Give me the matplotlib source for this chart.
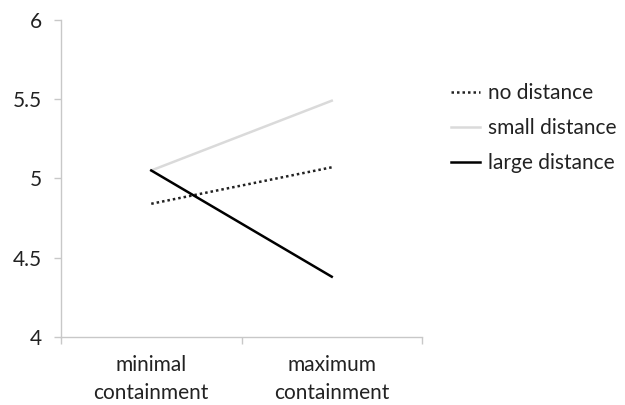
import matplotlib
matplotlib.use("Agg")
import matplotlib.pyplot as plt

categories = ["minimal\ncontainment", "maximum\ncontainment"]
no_distance = [4.84, 5.07]
small_distance = [5.05, 5.49]
large_distance = [5.05, 4.38]
yticks = [4, 4.5, 5, 5.5, 6]
ytick_labels = ["4", "4.5", "5", "5.5", "6"]

plt.rcParams['font.family'] = ['Lato', 'DejaVu Sans']
fs = 15
fig = plt.figure(figsize=(6.25, 4.05), dpi=100)
ax = fig.add_axes([0.0976, 0.168, 0.5776, 0.783])

x = list(range(len(categories)))
ax.plot(x, no_distance, color="#222222", lw=1.8, linestyle=(0, (1, 1.2)), label="no distance")
ax.plot(x, small_distance, color="#dadada", lw=1.8, label="small distance")
ax.plot(x, large_distance, color="#000000", lw=1.8, label="large distance")

ax.set_xlim(-0.5, len(categories) - 0.5)
ax.set_ylim(4, 6)
ax.set_yticks(yticks)
ax.set_yticklabels(ytick_labels, fontsize=fs, color="#222222")
ax.set_xticks([i - 0.5 for i in range(len(categories) + 1)])
ax.set_xticklabels([])
ax.set_xticks(x, minor=True)
ax.set_xticklabels(categories, minor=True, fontsize=fs, color="#222222", linespacing=1.5)
ax.tick_params(axis="x", which="minor", length=0, pad=13)
ax.tick_params(axis="x", which="major", length=5, color="#c8c8c8", width=1)
ax.tick_params(axis="y", length=5, color="#c8c8c8", width=1, pad=9)

for s in ["top", "right"]:
    ax.spines[s].set_visible(False)
for s in ["left", "bottom"]:
    ax.spines[s].set_color("#c8c8c8")
    ax.spines[s].set_linewidth(1)

leg = fig.legend(loc="upper left", bbox_to_anchor=(0.708, 0.815), frameon=False,
                 fontsize=fs, handlelength=1.4, handletextpad=0.4, labelspacing=0.72,
                 borderaxespad=0)
for t in leg.get_texts():
    t.set_color("#222222")

fig.savefig("out.png", dpi=100)
